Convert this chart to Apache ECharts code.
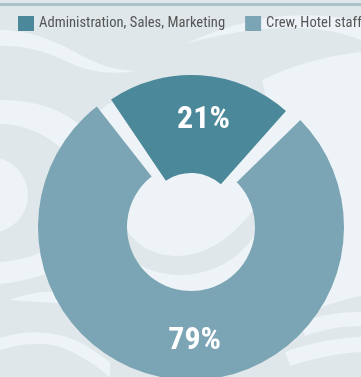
<!DOCTYPE html>
<html>
<head>
<meta charset="utf-8">
<script src="https://cdn.jsdelivr.net/npm/echarts@6/dist/echarts.min.js"></script>
<style>
  html, body { margin: 0; padding: 0; }
  #chart { width: 361px; height: 377px; }
</style>
</head>
<body>
<div id="chart"></div>
<script>
// Staff breakdown by area
const categories = ['Administration, Sales, Marketing', 'Crew, Hotel staff'];
const shares = [21, 79];
const colors = ['#4b8899', '#7ba5b5'];

const FONT = '"Roboto Condensed", Roboto, sans-serif';
const WAVE = '#edf3f6';
const BASE = '#dfe7ea';

// decorative wave pattern behind the chart
const wavePaths = [
  // top-left swoosh
  'M0,30 C25,30 50,38 75,52 C95,63 110,70 136,71 C110,75 88,72 68,62 C45,51 25,45 0,46 Z',
  // top-right swoosh
  'M185,44 C215,36 245,29 280,28 C315,27 340,32 361,40 L361,22 C335,15 300,13 268,18 C235,23 210,33 185,44 Z',
  // right side field
  'M262,80 C290,66 325,56 361,52 L361,296 C340,300 322,306 305,316 L290,200 Z',
  // left swirl: outer ring
  'M0,100 C40,100 70,112 90,135 L80,170 C60,140 30,124 0,124 Z',
  'M0,262 C20,260 35,256 45,250 L50,272 C35,278 18,282 0,284 Z',
  // bottom-left waves
  'M10,300 C30,292 50,290 70,293 L72,305 C55,302 35,302 10,300 Z',
  'M0,338 C25,330 50,330 75,340 C90,347 100,355 110,362 L110,377 C95,365 80,354 60,347 C40,341 20,344 0,350 Z',
  // bottom-right waves
  'M300,322 C320,315 340,312 361,312 L361,326 C340,326 322,330 305,336 Z',
  'M285,352 C310,343 335,338 361,337 L361,352 C338,353 315,358 290,366 Z',
  // left swirl: inner disc
  'M-10,157 A38,38 0 1 1 -10,233 A38,38 0 1 1 -10,157 Z',
  // pale field under the ring (shows through the gaps and the hole)
  'M191,79 A148,148 0 1 1 191,375 A148,148 0 1 1 191,79 Z'
];
// darker band seen through the hole
const holeShade = 'M122,222 C140,262 205,278 256,206 L256,232 C232,276 168,290 126,256 Z';

function renderBackground() {
  const children = wavePaths.map(function (d) {
    return { type: 'path', shape: { pathData: d }, style: { fill: WAVE } };
  });
  children.push({ type: 'path', shape: { pathData: holeShade }, style: { fill: BASE } });
  return { type: 'group', children: children };
}

function sliceData(showIndex) {
  return shares.map(function (v, i) {
    if (i === showIndex) {
      return { name: categories[i], value: v, itemStyle: { color: colors[i] } };
    }
    return { name: '', value: v, itemStyle: { color: 'rgba(0,0,0,0)' }, label: { show: false } };
  });
}

const labelStyle = {
  show: true,
  position: 'inside',
  formatter: '{c}%',
  color: '#ffffff',
  fontFamily: FONT,
  fontWeight: 'bold',
  fontSize: 32
};

const chart = echarts.init(document.getElementById('chart'), null, { renderer: 'canvas' });
chart.setOption({
  animation: false,
  backgroundColor: BASE,
  graphic: [
    { type: 'rect', z: 5, silent: true, shape: { x: 0, y: 3, width: 361, height: 3 }, style: { fill: '#aac2cc' } }
  ],
  legend: {
    data: categories,
    left: 18,
    top: 16,
    width: 1000,
    padding: 0,
    itemWidth: 16,
    itemHeight: 15,
    itemGap: 20,
    icon: 'rect',
    selectedMode: false,
    textStyle: { fontFamily: FONT, fontSize: 14.6, color: '#555555' }
  },
  series: [
    {
      type: 'custom',
      coordinateSystem: 'none',
      silent: true,
      z: 0,
      data: [0],
      renderItem: renderBackground
    },
    {
      type: 'pie',
      z: 2,
      center: [191, 218],
      radius: [45, 143],
      startAngle: 124,
      clockwise: true,
      avoidLabelOverlap: false,
      label: labelStyle,
      labelLayout: { dx: 6, dy: -1 },
      labelLine: { show: false },
      emphasis: { disabled: true },
      data: sliceData(0)
    },
    {
      type: 'pie',
      z: 2,
      center: [191, 227],
      radius: [64, 153],
      startAngle: 124,
      padAngle: 8,
      clockwise: true,
      avoidLabelOverlap: false,
      label: labelStyle,
      labelLayout: { dx: 11, dy: 3 },
      labelLine: { show: false },
      emphasis: { disabled: true },
      data: sliceData(1)
    }
  ]
});
</script>
</body>
</html>
